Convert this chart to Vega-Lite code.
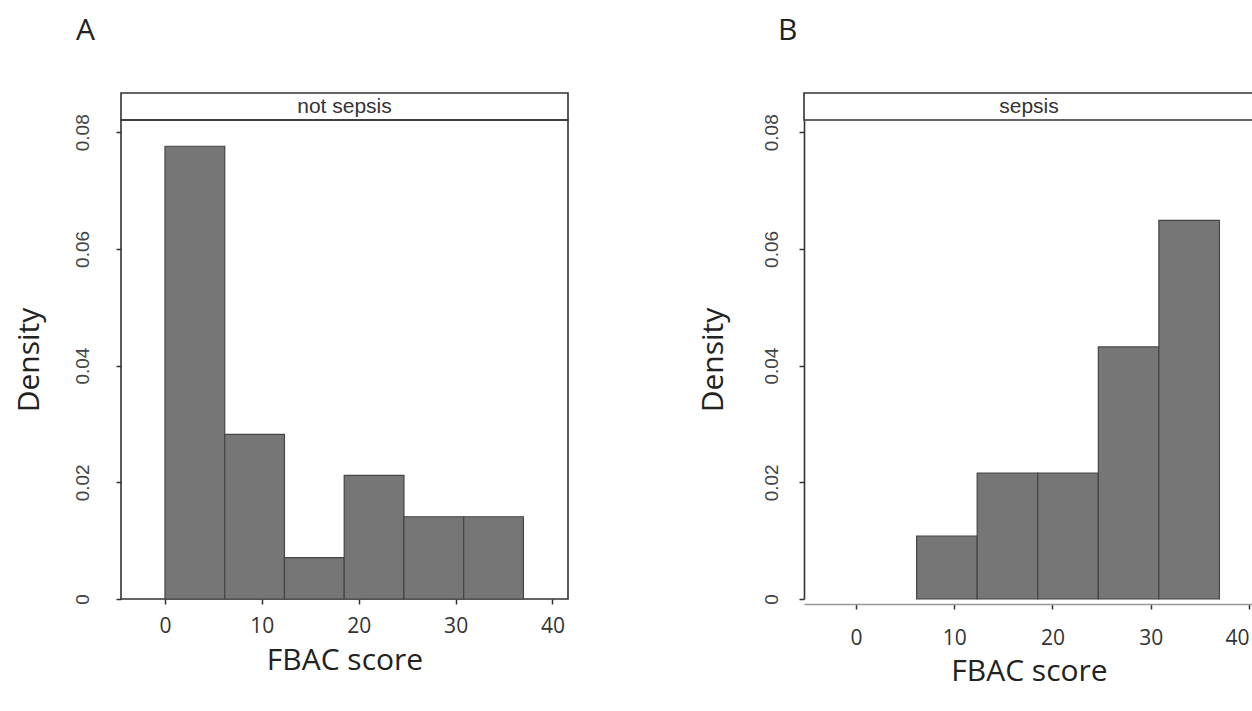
{
  "$schema": "https://vega.github.io/schema/vega-lite/v6.json",
  "background": "white",
  "padding": {"left": 13, "top": 15, "right": 0, "bottom": 30},
  "config": {
    "view": {"stroke": "#333333", "strokeWidth": 1.6},
    "title": {"font": "Open Sans", "fontSize": 30, "fontWeight": "normal", "color": "#222222", "anchor": "start", "frame": "group", "baseline": "alphabetic"}
  },
  "spacing": 129,
  "hconcat": [
    {
      "spacing": 0,
      "bounds": "flush",
      "vconcat": [
        {
          "width": 447,
          "height": 27,
          "view": {"stroke": "#333333", "strokeWidth": 1.6},
          "title": {"text": "A", "dx": -45, "offset": 47},
          "data": {"values": [{"label": "not sepsis"}]},
          "mark": {"type": "text", "font": "Liberation Sans", "fontSize": 21, "color": "#333333"},
          "encoding": {"text": {"field": "label", "type": "nominal"}}
        },
        {
          "width": 447,
          "height": 479,
          "data": {"values": [
            {"bin_start": 0, "bin_end": 6.1667, "density": 0.0776},
            {"bin_start": 6.1667, "bin_end": 12.3333, "density": 0.0282},
            {"bin_start": 12.3333, "bin_end": 18.5, "density": 0.0071},
            {"bin_start": 18.5, "bin_end": 24.6667, "density": 0.0212},
            {"bin_start": 24.6667, "bin_end": 30.8333, "density": 0.0141},
            {"bin_start": 30.8333, "bin_end": 37, "density": 0.0141}
          ]},
          "mark": {"type": "bar", "color": "#767676", "stroke": "#454545", "strokeWidth": 1.2},
          "encoding": {
            "x": {"field": "bin_start", "type": "quantitative", "title": "FBAC score",
              "scale": {"domain": [-4.54, 41.6], "nice": false, "zero": false},
              "axis": {"values": [0, 10, 20, 30, 40], "grid": false, "domain": false, "tickSize": 5, "tickColor": "#333333", "tickWidth": 1.5,
                "labelFont": "Open Sans", "labelFontSize": 21, "labelColor": "#333333", "labelPadding": 11,
                "titleFont": "Open Sans", "titleFontSize": 30, "titleFontWeight": "normal", "titleColor": "#222222", "titlePadding": 9}},
            "x2": {"field": "bin_end"},
            "y": {"field": "density", "type": "quantitative", "title": "Density",
              "scale": {"domain": [0, 0.0821], "nice": false},
              "axis": {"values": [0, 0.02, 0.04, 0.06, 0.08], "format": ".2~f", "grid": false, "domain": false, "tickSize": 5, "tickColor": "#333333", "tickWidth": 1.5,
                "labelAngle": -90, "labelFont": "Liberation Sans", "labelFontSize": 19, "labelColor": "#444444", "labelPadding": 24,
                "titleFont": "Open Sans", "titleFontSize": 30, "titleFontWeight": "normal", "titleColor": "#222222", "titlePadding": 29}},
            "y2": {"datum": 0}
          }
        }
      ]
    },
    {
      "spacing": 0,
      "bounds": "flush",
      "vconcat": [
        {
          "width": 450,
          "height": 27,
          "view": {"stroke": "#333333", "strokeWidth": 1.6},
          "title": {"text": "B", "dx": -26, "offset": 47},
          "data": {"values": [{"label": "sepsis"}]},
          "mark": {"type": "text", "font": "Liberation Sans", "fontSize": 21, "color": "#333333"},
          "encoding": {"text": {"field": "label", "type": "nominal"}}
        },
        {
          "width": 450,
          "height": 479,
          "view": {"stroke": null},
          "data": {"values": [
            {"bin_start": 6.1667, "bin_end": 12.3333, "density": 0.0108},
            {"bin_start": 12.3333, "bin_end": 18.5, "density": 0.0216},
            {"bin_start": 18.5, "bin_end": 24.6667, "density": 0.0216},
            {"bin_start": 24.6667, "bin_end": 30.8333, "density": 0.0432},
            {"bin_start": 30.8333, "bin_end": 37, "density": 0.0649}
          ]},
          "mark": {"type": "bar", "color": "#767676", "stroke": "#454545", "strokeWidth": 1.2},
          "encoding": {
            "x": {"field": "bin_start", "type": "quantitative", "title": "FBAC score",
              "scale": {"domain": [-5.3, 40.52], "nice": false, "zero": false},
              "axis": {"values": [0, 10, 20, 30, 40], "grid": false, "domain": true, "domainColor": "#999999", "domainWidth": 1.5, "offset": 5,
                "tickSize": 5, "tickColor": "#333333", "tickWidth": 1.5, "labelFlush": 8,
                "labelFont": "Open Sans", "labelFontSize": 21, "labelColor": "#333333", "labelPadding": 18,
                "titleFont": "Open Sans", "titleFontSize": 30, "titleFontWeight": "normal", "titleColor": "#222222", "titlePadding": 8}},
            "x2": {"field": "bin_end"},
            "y": {"field": "density", "type": "quantitative", "title": "Density",
              "scale": {"domain": [0, 0.0821], "nice": false},
              "axis": {"values": [0, 0.02, 0.04, 0.06, 0.08], "format": ".2~f", "grid": false, "domain": true, "domainColor": "#333333", "domainWidth": 1.6, "tickSize": 5, "tickColor": "#333333", "tickWidth": 1.5,
                "labelAngle": -90, "labelFont": "Liberation Sans", "labelFontSize": 19, "labelColor": "#444444", "labelPadding": 18,
                "titleFont": "Open Sans", "titleFontSize": 30, "titleFontWeight": "normal", "titleColor": "#222222", "titlePadding": 34}},
            "y2": {"datum": 0}
          }
        }
      ]
    }
  ]
}
